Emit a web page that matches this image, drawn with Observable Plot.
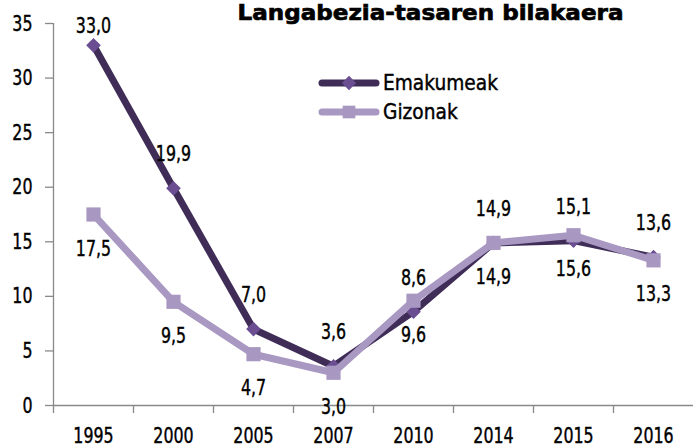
<!DOCTYPE html>
<html><head><meta charset="utf-8">
<script src="https://cdn.jsdelivr.net/npm/d3@7"></script>
<script src="https://cdn.jsdelivr.net/npm/@observablehq/plot@0.6"></script>
<style>
body{margin:0;background:#fff;}
#wrap{position:relative;width:693px;height:448px;overflow:hidden;font-family:"DejaVu Sans",sans-serif;}
#wrap svg{display:block}
.leg{position:absolute;left:318px;display:flex;align-items:center;height:30px;font-size:22px;color:#000;line-height:30px;}
.leg svg{margin-right:3px}
.leg span{display:inline-block;transform:scaleX(0.845);transform-origin:left center;-webkit-text-stroke:0.45px #000;}
</style></head><body><div id="wrap"></div>
<script>
const years = ["1995","2000","2005","2007","2010","2014","2015","2016"];
const emakumeak = [33.0,19.9,7.0,3.6,8.6,14.9,15.1,13.6];
const gizonak = [17.5,9.5,4.7,3.0,9.6,14.9,15.6,13.3];
const seriesNames = ["Emakumeak","Gizonak"];
const yTicks = [0,5,10,15,20,25,30,35];
const title = "Langabezia-tasaren bilakaera";

const darkLine = "#3f2d57", darkMark = "#6b4e92", lightLine = "#a898c2", lightMark = "#a797c1", axisGrey = "#898989";
const emRows = years.map((y,i)=>({year:y, value:emakumeak[i]}));
const giRows = years.map((y,i)=>({year:y, value:gizonak[i]}));
const fmt = v => v.toFixed(1).replace(".", ",");
const labelCeil = 31.7;
const font = '"DejaVu Sans",sans-serif';

const chart = Plot.plot({
  width: 693, height: 448,
  marginLeft: 53, marginRight: 0, marginTop: 23, marginBottom: 43,
  style: {fontFamily: font, fontSize: "22px", background: "#fff", color: "#000", overflow: "visible"},
  x: {type: "band", domain: years, padding: 0, label: null},
  y: {domain: [0, 35], label: null},
  marks: [
    Plot.ruleY([0], {stroke: axisGrey, strokeWidth: 1.3}),
    Plot.ruleX([years[0]], {y1: 0, y2: 35, dx: -40, stroke: axisGrey, strokeWidth: 1.3}),
    Plot.ruleX(years, {y1: 0, y2: 0, insetBottom: -8, dx: -40, stroke: axisGrey, strokeWidth: 1.3}),
    Plot.axisY(yTicks, {tickSize: 8, tickPadding: 13, stroke: axisGrey, strokeWidth: 1.3, fill: "#000", label: null, fontSize: 22}),
    Plot.axisX({tickSize: 0, tickPadding: 22, fill: "#000", label: null, fontSize: 22}),
    Plot.line(emRows, {x: "year", y: "value", stroke: darkLine, strokeWidth: 7, strokeLinejoin: "round"}),
    Plot.dot(emRows, {x: "year", y: "value", symbol: "diamond2", r: 6.6, fill: darkMark, stroke: "none"}),
    Plot.line(giRows, {x: "year", y: "value", stroke: lightLine, strokeWidth: 7, strokeLinejoin: "round"}),
    Plot.dot(giRows, {x: "year", y: "value", symbol: "square", r: 8, fill: lightMark, stroke: "none"}),
    Plot.text(emRows, {x: "year", y: d => Math.min(d.value, labelCeil), dy: -34, text: d => fmt(d.value), fill: "#000", fontSize: 22}),
    Plot.text(giRows, {x: "year", y: "value", dy: 34, text: d => fmt(d.value), fill: "#000", fontSize: 22}),
    Plot.text([title], {frameAnchor: "top", dx: 57, dy: -4, lineAnchor: "bottom", text: d => d, fontWeight: "bold", fontSize: 22, fill: "#000"})
  ]
});
const wrap = document.getElementById("wrap");
wrap.appendChild(chart);

// condense glyphs horizontally (and thicken slightly) to mimic the narrow typeface of the original
d3.select(chart).selectAll("text").each(function() {
  const txt = this.textContent;
  if (!txt) return;
  const sel = d3.select(this);
  if (txt === title) {
    sel.attr("textLength", 386).attr("lengthAdjust", "spacingAndGlyphs")
      .attr("stroke", "#000").attr("stroke-width", 0.7);
  } else {
    const w = this.getComputedTextLength();
    const ratio = /^[0-9,]+$/.test(txt) ? 0.72 : 0.845;
    sel.attr("textLength", w * ratio).attr("lengthAdjust", "spacingAndGlyphs")
      .attr("stroke", "#000").attr("stroke-width", 0.45);
  }
});

function legendItem(name, top, lineCol, markCol, sym) {
  const div = document.createElement("div");
  div.className = "leg";
  div.style.top = top + "px";
  const s = d3.create("svg").attr("width", 62).attr("height", 16);
  s.append("line").attr("x1", 4).attr("x2", 58).attr("y1", 8).attr("y2", 8)
    .attr("stroke", lineCol).attr("stroke-width", 7).attr("stroke-linecap", "round");
  s.append("path").attr("transform", "translate(31,8)")
    .attr("d", d3.symbol(sym === "diamond" ? d3.symbolDiamond2 : d3.symbolSquare, sym === "diamond" ? 130 : 160)())
    .attr("fill", markCol);
  div.appendChild(s.node());
  const t = document.createElement("span");
  t.textContent = name;
  div.appendChild(t);
  wrap.appendChild(div);
}
legendItem(seriesNames[0], 68, darkLine, darkMark, "diamond");
legendItem(seriesNames[1], 97, lightLine, lightMark, "square");
</script></body></html>
